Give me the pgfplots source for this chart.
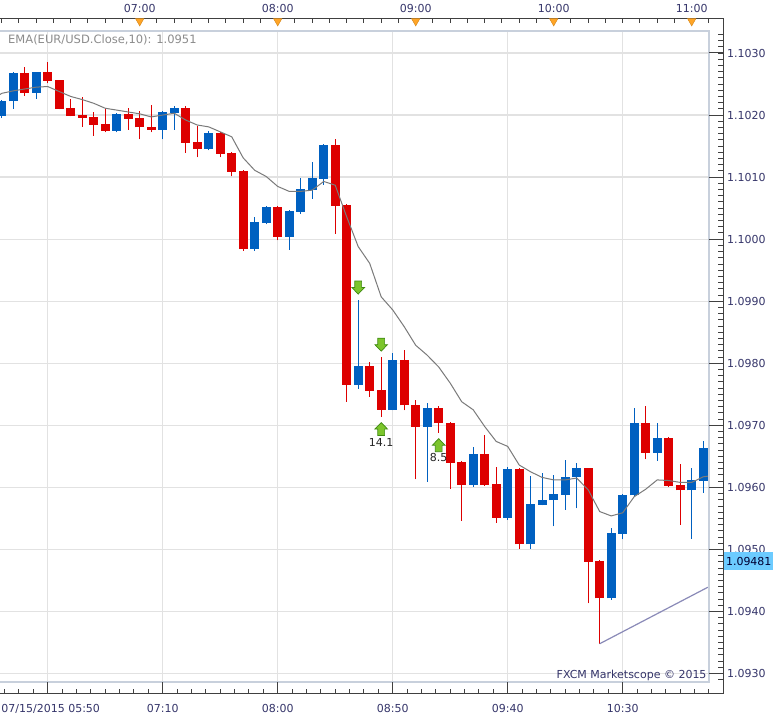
\documentclass[border=0pt]{standalone}
\usepackage{fontspec}
\setmainfont{DejaVu Sans}
\usepackage{pgfplots}
\pgfplotsset{compat=1.18}
\usepackage{pgfplotstable}
\definecolor{cred}{HTML}{DD0000}
\definecolor{cblue}{HTML}{0060C0}
\definecolor{gridc}{HTML}{E2E2E2}
\definecolor{framec}{HTML}{C8D0DC}
\definecolor{axc}{HTML}{404040}
\definecolor{labc}{HTML}{35356A}
\definecolor{emac}{HTML}{7A7A7A}
\definecolor{lblc}{HTML}{8C8C8C}
\definecolor{purp}{HTML}{8A8AB8}
\definecolor{arrfill}{HTML}{7CC52C}
\definecolor{arrdraw}{HTML}{3F8A10}
\definecolor{trif}{HTML}{FFA526}
\definecolor{pricebox}{HTML}{6CCBFF}

\pgfdeclareplotmark{uparr}{%
  \pgfpathmoveto{\pgfpoint{0pt}{6.5pt}}%
  \pgfpathlineto{\pgfpoint{6.3pt}{0pt}}%
  \pgfpathlineto{\pgfpoint{3.4pt}{0pt}}%
  \pgfpathlineto{\pgfpoint{3.4pt}{-6.5pt}}%
  \pgfpathlineto{\pgfpoint{-3.4pt}{-6.5pt}}%
  \pgfpathlineto{\pgfpoint{-3.4pt}{0pt}}%
  \pgfpathlineto{\pgfpoint{-6.3pt}{0pt}}%
  \pgfpathclose
  \pgfusepathqfillstroke}
\pgfdeclareplotmark{dnarr}{%
  \pgfpathmoveto{\pgfpoint{0pt}{-6.5pt}}%
  \pgfpathlineto{\pgfpoint{6.3pt}{0pt}}%
  \pgfpathlineto{\pgfpoint{3.4pt}{0pt}}%
  \pgfpathlineto{\pgfpoint{3.4pt}{6.5pt}}%
  \pgfpathlineto{\pgfpoint{-3.4pt}{6.5pt}}%
  \pgfpathlineto{\pgfpoint{-3.4pt}{0pt}}%
  \pgfpathlineto{\pgfpoint{-6.3pt}{0pt}}%
  \pgfpathclose
  \pgfusepathqfillstroke}
\pgfdeclareplotmark{dtri}{%
  \pgfpathmoveto{\pgfpoint{-4.2pt}{3.6pt}}%
  \pgfpathlineto{\pgfpoint{4.2pt}{3.6pt}}%
  \pgfpathlineto{\pgfpoint{0pt}{-3.8pt}}%
  \pgfpathclose
  \pgfusepathqfillstroke}

\pgfplotstableread{
n O H L C
3 1.10268 1.10277 1.10231 1.10236
5 1.10269 1.10286 1.10251 1.10255
6 1.10256 1.10257 1.10209 1.10210
7 1.10211 1.10226 1.10198 1.10199
8 1.10200 1.10229 1.10181 1.10196
9 1.10197 1.10205 1.10167 1.10184
10 1.10186 1.10210 1.10172 1.10175
12 1.10202 1.10212 1.10176 1.10194
13 1.10195 1.10207 1.10161 1.10180
14 1.10181 1.10216 1.10172 1.10176
17 1.10211 1.10215 1.10139 1.10155
18 1.10157 1.10183 1.10132 1.10145
20 1.10171 1.10173 1.10132 1.10138
21 1.10139 1.10140 1.10101 1.10109
22 1.10110 1.10111 1.09981 1.09984
25 1.10052 1.10053 1.09998 1.10004
30 1.10152 1.10161 1.10009 1.10054
31 1.10055 1.10056 1.09738 1.09765
33 1.09795 1.09802 1.09746 1.09756
34 1.09757 1.09810 1.09714 1.09725
36 1.09806 1.09822 1.09724 1.09732
37 1.09733 1.09741 1.09613 1.09698
39 1.09728 1.09731 1.09688 1.09703
40 1.09704 1.09705 1.09598 1.09640
41 1.09641 1.09642 1.09546 1.09604
43 1.09654 1.09684 1.09603 1.09604
44 1.09605 1.09633 1.09543 1.09551
46 1.09630 1.09631 1.09501 1.09508
52 1.09631 1.09632 1.09413 1.09480
53 1.09482 1.09483 1.09348 1.09421
57 1.09704 1.09731 1.09645 1.09656
59 1.09680 1.09681 1.09601 1.09603
60 1.09604 1.09638 1.09540 1.09595
}\redc

\pgfplotstableread{
n O H L C
1 1.10199 1.10224 1.10195 1.10223
2 1.10222 1.10269 1.10210 1.10268
4 1.10236 1.10270 1.10226 1.10269
11 1.10175 1.10203 1.10172 1.10202
15 1.10176 1.10207 1.10161 1.10205
16 1.10204 1.10215 1.10176 1.10211
19 1.10145 1.10174 1.10143 1.10171
23 1.09984 1.10036 1.09981 1.10028
24 1.10026 1.10053 1.10024 1.10052
26 1.10004 1.10047 1.09983 1.10045
27 1.10044 1.10099 1.10041 1.10081
28 1.10080 1.10124 1.10065 1.10098
29 1.10097 1.10153 1.10088 1.10152
32 1.09765 1.09902 1.09759 1.09795
35 1.09725 1.09816 1.09724 1.09806
38 1.09698 1.09736 1.09609 1.09728
42 1.09604 1.09665 1.09601 1.09654
45 1.09551 1.09633 1.09548 1.09630
47 1.09508 1.09618 1.09501 1.09573
48 1.09572 1.09623 1.09571 1.09580
49 1.09579 1.09620 1.09537 1.09589
50 1.09588 1.09644 1.09564 1.09617
51 1.09616 1.09639 1.09566 1.09631
54 1.09421 1.09534 1.09419 1.09526
55 1.09525 1.09589 1.09516 1.09588
56 1.09587 1.09728 1.09586 1.09704
58 1.09656 1.09704 1.09643 1.09680
61 1.09595 1.09632 1.09517 1.09612
62 1.09611 1.09675 1.09591 1.09663
}\bluec

\pgfplotstableread{
n v
0.85 1.10233
1 1.10235
2 1.10239
3 1.10242
4 1.10245
5 1.10246
6 1.10238
7 1.10230
8 1.10225
9 1.10219
10 1.10211
11 1.10208
12 1.10205
13 1.10202
14 1.10197
15 1.10200
16 1.10203
17 1.10192
18 1.10184
19 1.10181
20 1.10173
21 1.10165
22 1.10131
23 1.10111
24 1.10101
25 1.10085
26 1.10077
27 1.10077
28 1.10079
29 1.10093
30 1.10087
31 1.10036
32 1.09988
33 1.09961
34 1.09907
35 1.09886
36 1.09859
37 1.09829
38 1.09813
39 1.09794
40 1.09768
41 1.09738
42 1.09725
43 1.09698
44 1.09674
45 1.09666
46 1.09636
47 1.09625
48 1.09616
49 1.09612
50 1.09612
51 1.09615
52 1.09596
53 1.09561
54 1.09554
55 1.09559
56 1.09585
57 1.09597
58 1.09612
59 1.09611
60 1.09608
61 1.09608
62 1.09617
62.4 1.09618
}\ema

\begin{document}
\begin{tikzpicture}[x=1pt,y=1pt]
\useasboundingbox (0,0) rectangle (781,720);
\fill[white] (0,0) rectangle (781,720);
\begin{axis}[
  at={(0pt,38.3pt)}, anchor=south west, scale only axis,
  width=708.7pt, height=650.7pt,
  xmin=0.8522, xmax=62.478, ymin=1.092868, ymax=1.103355,
  axis line style={draw=none}, tick style={draw=none},
  major tick length=0pt, minor tick length=0pt,
  xtick={5,15,25,35,45,55},
  xticklabels={\hspace*{6pt}07/15/2015 05:50,07:10,08:00,08:50,09:40,10:30},
  xticklabel pos=left, xtick pos=left,
  ytick={1.093,1.094,1.095,1.096,1.097,1.098,1.099,1.100,1.101,1.102,1.103},
  yticklabel pos=right, ytick pos=right,
  scaled y ticks=false,
  yticklabel style={anchor=base west, xshift=18.3pt, yshift=-4.2pt,
    /pgf/number format/fixed, /pgf/number format/fixed zerofill,
    /pgf/number format/precision=4},
  /pgf/number format/assume math mode=true,
  xticklabel style={anchor=base, yshift=-31pt},
  ticklabel style={font=\fontsize{11}{13}\selectfont, text=labc, inner sep=0pt},
  grid=major, grid style={gridc, line width=1.3pt},
]
% wicks
\addplot[draw=none, mark=none, forget plot,
  error bars/.cd, y dir=plus, y explicit, error mark=none,
  error bar style={draw=cred, line width=1.3pt}]
  table[x=n, y=L, y error plus expr=\thisrow{H}-\thisrow{L}] {\redc};
\addplot[draw=none, mark=none, forget plot,
  error bars/.cd, y dir=plus, y explicit, error mark=none,
  error bar style={draw=cblue, line width=1.3pt}]
  table[x=n, y=L, y error plus expr=\thisrow{H}-\thisrow{L}] {\bluec};
% bodies
\addplot[draw=none, mark=none, forget plot,
  error bars/.cd, y dir=plus, y explicit, error mark=none,
  error bar style={draw=cred, line width=9pt}]
  table[x=n, y=C, y error plus expr=\thisrow{O}-\thisrow{C}] {\redc};
\addplot[draw=none, mark=none, forget plot,
  error bars/.cd, y dir=plus, y explicit, error mark=none,
  error bar style={draw=cblue, line width=9pt}]
  table[x=n, y=O, y error plus expr=\thisrow{C}-\thisrow{O}] {\bluec};
% EMA
\addplot[emac, line width=1pt, mark=none] table[x=n, y=v] {\ema};
% trend line
\addplot[purp, line width=1.2pt, mark=none] coordinates {(53,1.09348) (62.4,1.09439)};
% signal arrows
\addplot[only marks, mark=dnarr, mark options={fill=arrfill, draw=arrdraw, line width=0.7pt}]
  coordinates {(32,1.09922) (34,1.09830)};
\addplot[only marks, mark=uparr, mark options={fill=arrfill, draw=arrdraw, line width=0.7pt}]
  coordinates {(34,1.09694) (39,1.09668)};
\node[font=\fontsize{11}{13}\selectfont, text=black!85, inner sep=0pt] at (axis cs:34,1.09673) {14.1};
\node[font=\fontsize{11}{13}\selectfont, text=black!85, inner sep=0pt] at (axis cs:39,1.09648) {8.5};
\end{axis}
% frame and outer axes
\draw[framec, line width=2pt] (-2,38.3) rectangle (708.7,689);
\draw[axc, line width=1.3pt] (0,701.7) -- (723.3,701.7) -- (723.3,26.7) -- (0,26.7);
\foreach \i in {0,...,41} {\draw[axc, line width=1pt] ({1.7+17.25*\i},701.7) -- ++(0,-5);}
\foreach \i in {0,...,49} {\draw[axc, line width=1pt] ({4.575+14.375*\i},26.7) -- ++(0,4.3);}
\foreach \i in {0,...,5} {\draw[axc, line width=1pt] ({47.7+115*\i},26.7) -- ++(0,11.6);}
\foreach \j in {0,...,10} {\draw[axc, line width=1pt] (708.7,{667-62.05*\j}) -- (723.3,{667-62.05*\j});}
\foreach \k in {-3,...,101} {\draw[axc, line width=0.9pt] (718.3,{667-6.205*\k}) -- (723.3,{667-6.205*\k});}
\node[anchor=base west, inner sep=0pt, text=lblc, font=\fontsize{11.5}{13}\selectfont] at (8,676.7) {EMA(EUR/USD.Close,10): 1.0951};
\node[anchor=base east, inner sep=0pt, text=labc, font=\fontsize{11}{13}\selectfont] at (706.7,42) {FXCM Marketscope © 2015};
\node[anchor=west, fill=pricebox, inner xsep=2pt, inner ysep=5pt, text height=8pt, text depth=0pt, text=black!80!blue, font=\fontsize{11}{13}\selectfont] at (723.8,158.5) {1.09481};
% top time axis
\begin{axis}[
  at={(0pt,38.3pt)}, anchor=south west, scale only axis,
  width=708.7pt, height=650.7pt,
  xmin=0.8522, xmax=62.478, ymin=1.092868, ymax=1.103355,
  axis line style={draw=none}, tick style={draw=none},
  major tick length=0pt, ytick=\empty,
  xtick={13,25,37,49,61}, xticklabels={07:00,08:00,09:00,10:00,11:00},
  xticklabel pos=right, xtick pos=right,
  xticklabel style={anchor=base, yshift=18.3pt, font=\fontsize{11}{13}\selectfont, text=labc, inner sep=0pt},
  clip=false,
]
\addplot[only marks, mark=dtri,
  mark options={fill=trif, draw=trif!85!black, line width=0.5pt}]
  coordinates {(13,1.103498) (25,1.103498) (37,1.103498) (49,1.103498) (61,1.103498)};
\end{axis}
\end{tikzpicture}
\end{document}
